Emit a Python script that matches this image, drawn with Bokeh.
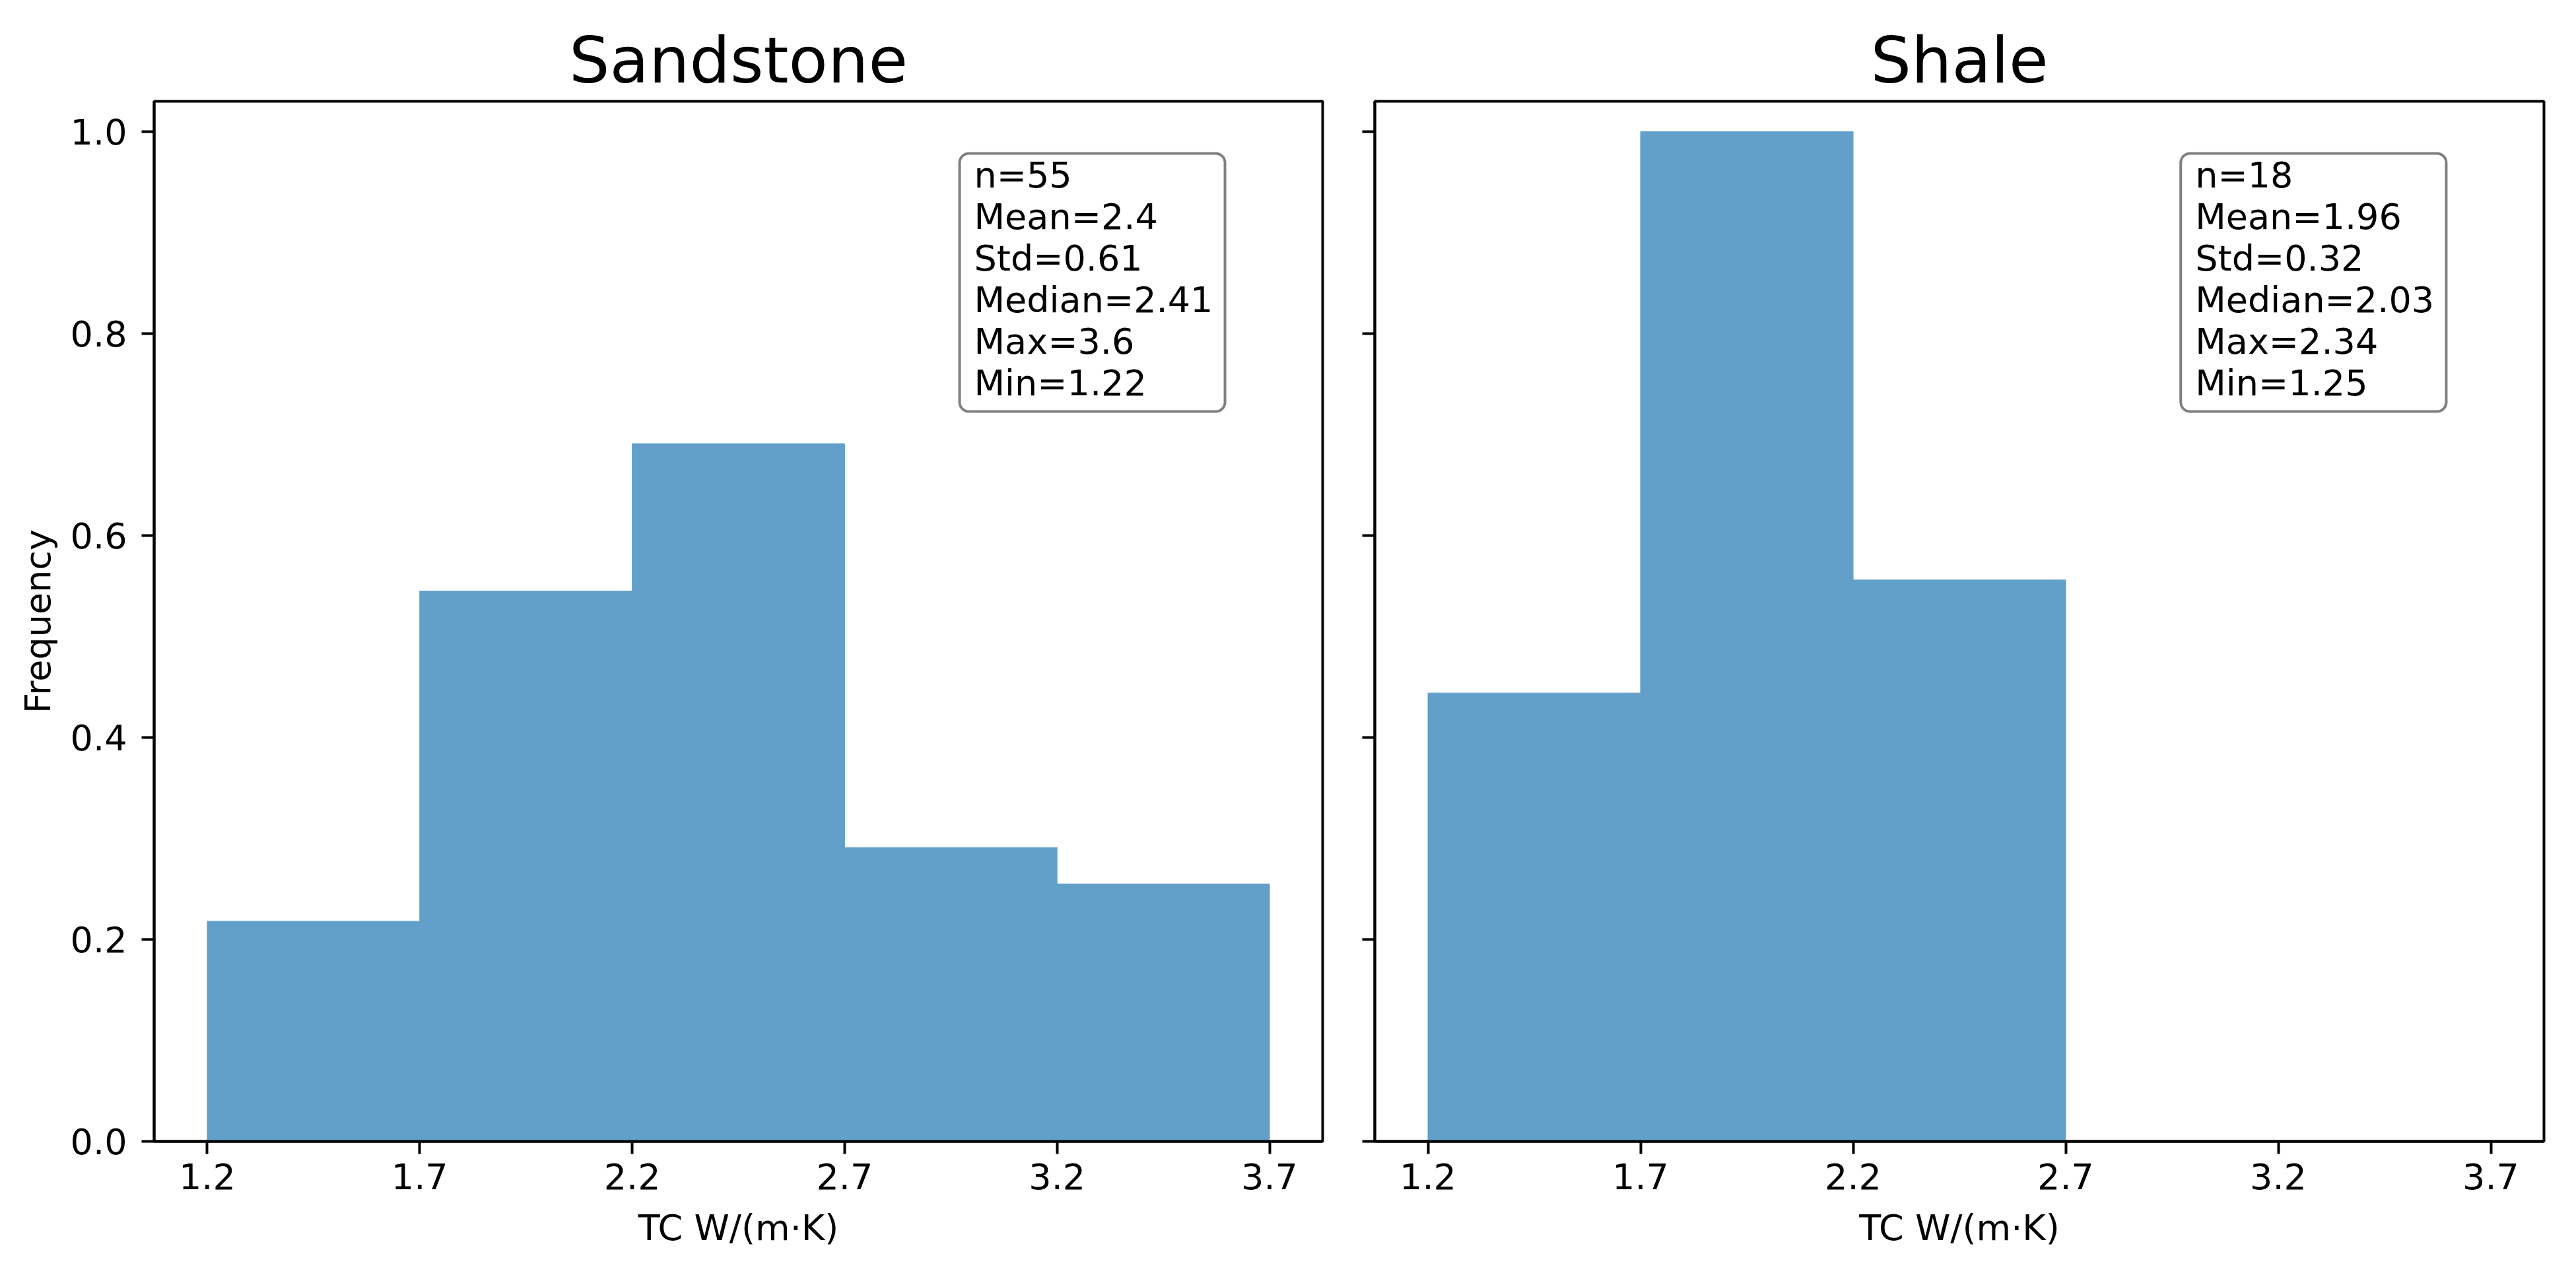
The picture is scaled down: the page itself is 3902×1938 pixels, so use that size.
from bokeh.plotting import figure
from bokeh.models import Range1d, FixedTicker, BoxAnnotation, Label, NumeralTickFormatter, CustomJSTickFormatter
from bokeh.layouts import row
from bokeh.embed import file_html
from bokeh.resources import INLINE

# ---- data ----
bin_edges = [1.2, 1.7, 2.2, 2.7, 3.2, 3.7]
sandstone_freq = [0.218, 0.545, 0.691, 0.291, 0.255]
shale_freq = [0.444, 1.0, 0.556, 0.0, 0.0]
x_ticks = [1.2, 1.7, 2.2, 2.7, 3.2, 3.7]
y_ticks = [0.0, 0.2, 0.4, 0.6, 0.8, 1.0]
panel_titles = ["Sandstone", "Shale"]
sandstone_stats = ["n=55", "Mean=2.4", "Std=0.61", "Median=2.41", "Max=3.6", "Min=1.22"]
shale_stats = ["n=18", "Mean=1.96", "Std=0.32", "Median=2.03", "Max=2.34", "Min=1.25"]
x_label = "TC W/(m\u00b7K)"
y_label = "Frequency"

# ---- layout constants ----
X_LO, X_HI = 1.075, 3.825
Y_LO, Y_HI = 0.0, 1.03
FONT = "DejaVu Sans"
H = 1930
TOP = 153
BOTTOM = 201
BAR_COLOR = "#62a0ca"


def fx(f):
    return X_LO + f * (X_HI - X_LO)


def fy(f):
    return Y_LO + f * (Y_HI - Y_LO)


def make_panel(title, freq, stats, show_ylabels, border_left, border_right, width):
    p = figure(width=width, height=H, output_backend="svg", toolbar_location=None,
               x_range=Range1d(X_LO, X_HI), y_range=Range1d(Y_LO, Y_HI),
               min_border_left=border_left, min_border_right=border_right,
               min_border_top=TOP, min_border_bottom=BOTTOM, title=title)
    p.title.align = "center"
    p.title.text_font = FONT
    p.title.text_font_size = "97px"
    p.title.text_font_style = "normal"
    p.title.text_color = "black"
    p.title.standoff = 12
    p.grid.visible = False
    p.outline_line_color = "black"
    p.outline_line_width = 4
    p.outline_line_alpha = 1.0
    p.background_fill_color = "white"
    p.border_fill_color = "white"

    p.quad(left=bin_edges[:-1], right=bin_edges[1:], top=freq, bottom=0,
           fill_color=BAR_COLOR, fill_alpha=1.0, line_color=BAR_COLOR, line_width=1)

    for ax in (p.xaxis[0], p.yaxis[0]):
        ax.axis_line_width = 4
        ax.axis_line_color = "black"
        ax.major_tick_line_width = 4
        ax.major_tick_out = 19
        ax.major_tick_in = 0
        ax.minor_tick_line_color = None
        ax.major_label_text_font = FONT
        ax.major_label_text_font_size = "54px"
        ax.major_label_text_color = "black"
        ax.axis_label_text_font = FONT
        ax.axis_label_text_font_size = "54px"
        ax.axis_label_text_font_style = "normal"
        ax.axis_label_text_color = "black"

    p.xaxis.ticker = FixedTicker(ticks=x_ticks)
    p.xaxis.formatter = NumeralTickFormatter(format="0.0")
    p.xaxis.major_label_standoff = 14
    p.xaxis.axis_label = x_label
    p.xaxis.axis_label_standoff = 24

    p.yaxis.ticker = FixedTicker(ticks=y_ticks)
    p.yaxis.major_label_standoff = 22
    if show_ylabels:
        p.yaxis.formatter = NumeralTickFormatter(format="0.0")
        p.yaxis.axis_label = y_label
        p.yaxis.axis_label_standoff = 15
    else:
        p.yaxis.formatter = CustomJSTickFormatter(code="return ''")
        p.yaxis.major_label_standoff = 0

    box = BoxAnnotation(left=fx(0.6893), right=fx(0.9164), top=fy(0.9499), bottom=fy(0.7018),
                        fill_color="white", fill_alpha=1.0,
                        line_color="#808080", line_alpha=1.0, line_width=4, border_radius=14)
    p.add_layout(box)
    lab = Label(x=fx(0.7017), y=fy(0.9492), text="\n".join(stats),
                text_font=FONT, text_font_size="54px", text_color="black",
                text_align="left", text_baseline="top", text_line_height=1.0)
    p.add_layout(lab)
    return p


p1 = make_panel(panel_titles[0], sandstone_freq, sandstone_stats, True, 233, 10, 233 + 1770 + 10)
p2 = make_panel(panel_titles[1], shale_freq, shale_stats, False, 69, 30, 69 + 1771 + 30)

layout = row(p1, p2)
open("out.html", "w").write(file_html(layout, INLINE))
